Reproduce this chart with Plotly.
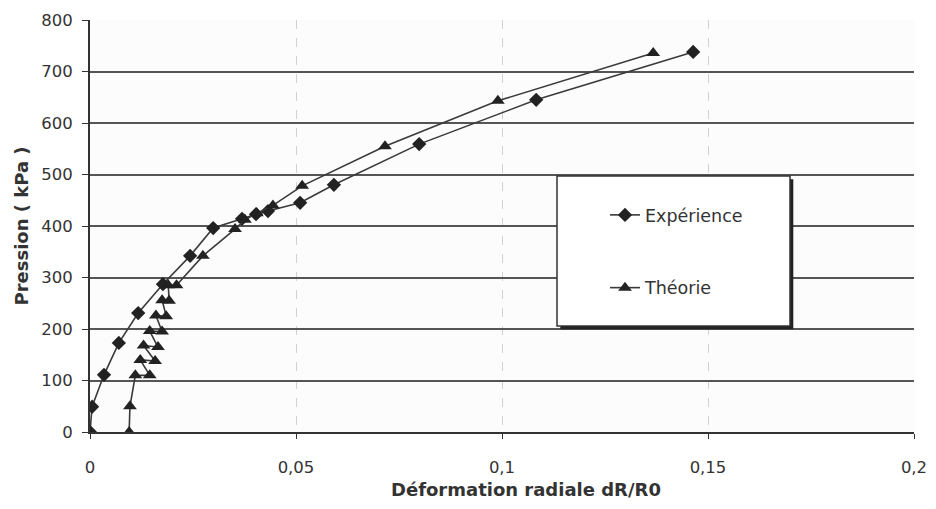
import plotly.graph_objects as go

# Expérience (diamonds)
exp_x = [0.0, 0.0005, 0.0034, 0.0070, 0.0117, 0.0177, 0.0243, 0.0299, 0.0369, 0.0403, 0.0432, 0.0510, 0.0592, 0.0799, 0.1083, 0.1464]
exp_y = [0, 49, 111, 173, 231, 287, 342, 396, 414, 423, 429, 445, 480, 559, 645, 738]

# Théorie (triangles)
th_x = [0.0095, 0.0097, 0.0110, 0.0145, 0.0122, 0.0158, 0.0130, 0.0165, 0.0145, 0.0175, 0.0160, 0.0185, 0.0175, 0.0192, 0.0190, 0.0210,
        0.0274, 0.0352, 0.0376, 0.0405, 0.0444, 0.0515, 0.0716, 0.0990, 0.1367]
th_y = [0, 50, 110, 110, 140, 138, 168, 165, 196, 195, 226, 225, 256, 255, 285, 285,
        342, 394, 412, 425, 440, 478, 555, 643, 736]

x_ticks = [0, 0.05, 0.1, 0.15, 0.2]
y_ticks = [0, 100, 200, 300, 400, 500, 600, 700, 800]

x_title = "Déformation radiale dR/R0"
y_title = "Pression ( kPa )"

font = "DejaVu Sans, Liberation Sans, sans-serif"
line_col = "#3a3a3a"

fig = go.Figure()
fig.add_trace(go.Scatter(x=exp_x, y=exp_y, mode="lines+markers", name="Expérience",
                         legendgroup="a",
                         line=dict(color=line_col, width=1.6),
                         marker=dict(symbol="diamond", size=11, color="#222222")))
fig.add_trace(go.Scatter(x=th_x, y=th_y, mode="lines+markers", name="Théorie",
                         legendgroup="b",
                         line=dict(color=line_col, width=1.6),
                         marker=dict(symbol="triangle-up", size=12, color="#222222")))

# legend box with shadow
x0, x1 = (557 - 90) / 824, (790 - 90) / 824
y1, y0 = (432 - 176) / 412, (432 - 326) / 412
fig.add_shape(type="rect", xref="paper", yref="paper", x0=x0 + 0.004, x1=x1 + 0.004, y0=y0 - 0.008, y1=y1 - 0.008,
              fillcolor="#222222", line=dict(width=0), layer="above")
fig.add_shape(type="rect", xref="paper", yref="paper", x0=x0, x1=x1, y0=y0, y1=y1,
              fillcolor="white", line=dict(color="#333333", width=1.5), layer="above")

# x axis title (offset right of centre as in the reference)
fig.add_annotation(text="<b>" + x_title + "</b>", xref="paper", yref="paper",
                   x=(526 - 90) / 824, y=(432 - 489) / 412, xanchor="center", yanchor="middle",
                   showarrow=False, font=dict(family=font, size=18, color="#333333"))

fig.update_layout(
    width=920, height=493,
    margin=dict(l=82, r=14, t=12, b=69),
    paper_bgcolor="white", plot_bgcolor="#fcfcfc",
    separators=", ",
    font=dict(family=font, size=16, color="#333333"),
    showlegend=True,
    legend=dict(x=(605 - 90) / 824, y=(432 - 197) / 412, xanchor="left", yanchor="top",
                bgcolor="rgba(0,0,0,0)", borderwidth=0, tracegroupgap=47,
                font=dict(family=font, size=17.5, color="#333333")),
    xaxis=dict(range=[0, 0.2], tickvals=x_ticks, showgrid=True, gridcolor="#d2d2d2", griddash="dash", gridwidth=1,
               showline=True, linecolor="#333333", linewidth=2, mirror=False, zeroline=False, automargin=False,
               ticks="outside", ticklen=5, tickcolor="#333333", tickfont=dict(size=16.5), ticklabelstandoff=14),
    yaxis=dict(range=[0, 800], tickvals=y_ticks, showgrid=True, gridcolor="#555555", gridwidth=2,
               showline=True, linecolor="#333333", linewidth=2, zeroline=False, automargin=False,
               ticks="outside", ticklen=6, tickcolor="#333333", tickfont=dict(size=16.5), ticklabelstandoff=6,
               title=dict(text="<b>" + y_title + "</b>", font=dict(family=font, size=18), standoff=8)),
)

fig.write_html("out.html")
